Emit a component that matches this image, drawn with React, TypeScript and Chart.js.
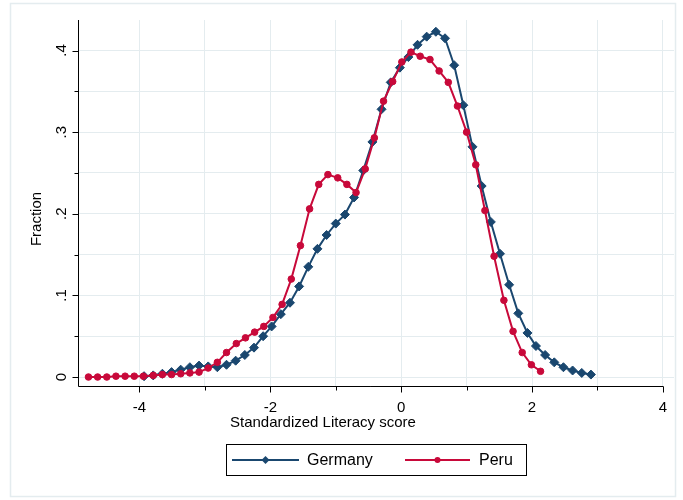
import React, { useEffect, useRef } from "react";
import { Chart, registerables } from "chart.js";

Chart.register(...registerables);

// ---------------- data ----------------
const seriesNames = ["Germany", "Peru"];

const germanyX = [
  -3.93, -3.79, -3.65, -3.51, -3.37, -3.23, -3.09, -2.95, -2.81, -2.67,
  -2.53, -2.39, -2.25, -2.11, -1.98, -1.84, -1.70, -1.56, -1.42, -1.28,
  -1.14, -1.00, -0.86, -0.72, -0.58, -0.44, -0.30, -0.16, -0.02, 0.11,
  0.25, 0.39, 0.53, 0.67, 0.81, 0.95, 1.09, 1.23, 1.37, 1.51,
  1.65, 1.79, 1.93, 2.06, 2.20, 2.34, 2.48, 2.62, 2.76, 2.90,
];
const germanyY = [
  0.001, 0.002, 0.004, 0.006, 0.009, 0.012, 0.014, 0.013, 0.012, 0.015,
  0.020, 0.027, 0.036, 0.050, 0.062, 0.077, 0.091, 0.111, 0.135, 0.157,
  0.174, 0.188, 0.199, 0.220, 0.253, 0.288, 0.328, 0.361, 0.379, 0.392,
  0.407, 0.417, 0.423, 0.415, 0.382, 0.333, 0.282, 0.234, 0.190, 0.151,
  0.113, 0.078, 0.054, 0.038, 0.027, 0.018, 0.012, 0.008, 0.005, 0.003,
];

const peruX = [
  -4.78, -4.64, -4.50, -4.36, -4.22, -4.08, -3.94, -3.79, -3.65, -3.51,
  -3.37, -3.23, -3.09, -2.95, -2.81, -2.67, -2.52, -2.38, -2.24, -2.10,
  -1.96, -1.82, -1.68, -1.54, -1.40, -1.26, -1.12, -0.97, -0.83, -0.69,
  -0.55, -0.41, -0.27, -0.13, 0.01, 0.15, 0.29, 0.44, 0.58, 0.72,
  0.86, 1.00, 1.14, 1.28, 1.42, 1.57, 1.71, 1.85, 1.99, 2.13,
];
const peruY = [
  0.000, 0.000, 0.000, 0.001, 0.001, 0.001, 0.001, 0.002, 0.003, 0.003,
  0.004, 0.005, 0.006, 0.011, 0.018, 0.030, 0.041, 0.048, 0.055, 0.062,
  0.073, 0.089, 0.120, 0.161, 0.206, 0.236, 0.248, 0.244, 0.236, 0.226,
  0.255, 0.293, 0.338, 0.362, 0.386, 0.398, 0.393, 0.389, 0.375, 0.361,
  0.332, 0.300, 0.260, 0.204, 0.148, 0.094, 0.056, 0.030, 0.015, 0.007,
];

const xMajorTicks = [-4, -2, 0, 2, 4];
const xMajorLabels = ["-4", "-2", "0", "2", "4"];
const xMinorTicks = [-3, -1, 1, 3];
const yMajorTicks = [0, 0.1, 0.2, 0.3, 0.4];
const yMajorLabels = ["0", ".1", ".2", ".3", ".4"];
const yMinorTicks = [0.05, 0.15, 0.25, 0.35];

const xTitle = "Standardized Literacy score";
const yTitle = "Fraction";

// ---------------- style ----------------
const NAVY = "#1a476f";
const RED = "#c8093a";
const GRID = "#e4ecef";
const FONT = '"Liberation Sans", Arial, sans-serif';

const overlay = {
  id: "overlay",
  afterDraw(chart: any) {
    const ctx = chart.ctx as CanvasRenderingContext2D;
    const xs = chart.scales.x;
    const ys = chart.scales.y;
    const area = chart.chartArea;
    ctx.save();

    // outer frame
    ctx.strokeStyle = GRID;
    ctx.lineWidth = 1.5;
    ctx.strokeRect(10.5, 3.5, 665, 493);

    const axisY = Math.round(area.bottom) + 0.5;
    const axisX = Math.round(area.left) + 0.5;
    const xEnd = xs.getPixelForValue(4);

    ctx.strokeStyle = "#000";
    ctx.lineWidth = 1;
    ctx.beginPath();
    ctx.moveTo(axisX, area.top);
    ctx.lineTo(axisX, axisY);
    ctx.lineTo(xEnd + 0.5, axisY);
    ctx.stroke();

    // x ticks
    ctx.beginPath();
    xMajorTicks.forEach((v) => {
      const p = Math.round(xs.getPixelForValue(v)) + 0.5;
      ctx.moveTo(p, axisY);
      ctx.lineTo(p, axisY + 6);
    });
    xMinorTicks.forEach((v) => {
      const p = Math.round(xs.getPixelForValue(v)) + 0.5;
      ctx.moveTo(p, axisY);
      ctx.lineTo(p, axisY + 4);
    });
    // y ticks
    yMajorTicks.forEach((v) => {
      const p = Math.round(ys.getPixelForValue(v)) + 0.5;
      ctx.moveTo(axisX, p);
      ctx.lineTo(axisX - 6, p);
    });
    yMinorTicks.forEach((v) => {
      const p = Math.round(ys.getPixelForValue(v)) + 0.5;
      ctx.moveTo(axisX, p);
      ctx.lineTo(axisX - 4, p);
    });
    ctx.stroke();

    ctx.fillStyle = "#000";
    ctx.font = `15px ${FONT}`;
    ctx.textAlign = "center";
    ctx.textBaseline = "middle";
    xMajorTicks.forEach((v, i) => {
      ctx.fillText(xMajorLabels[i], xs.getPixelForValue(v), axisY + 21);
    });
    yMajorTicks.forEach((v, i) => {
      ctx.save();
      ctx.translate(axisX - 17, ys.getPixelForValue(v));
      ctx.rotate(-Math.PI / 2);
      ctx.fillText(yMajorLabels[i], 0, 0);
      ctx.restore();
    });

    // axis titles
    ctx.textAlign = "left";
    ctx.fillText(xTitle, 230, 423);
    ctx.save();
    ctx.translate(37, 219);
    ctx.rotate(-Math.PI / 2);
    ctx.textAlign = "center";
    ctx.fillText(yTitle, 0, 0);
    ctx.restore();

    // legend
    ctx.strokeStyle = "#000";
    ctx.lineWidth = 1;
    ctx.strokeRect(226.5, 444.5, 300, 31);
    const ly = 460;
    const drawEntry = (x0: number, x1: number, color: string, marker: string, tx: number, label: string) => {
      ctx.strokeStyle = color;
      ctx.lineWidth = 2;
      ctx.beginPath();
      ctx.moveTo(x0, ly);
      ctx.lineTo(x1, ly);
      ctx.stroke();
      const mx = (x0 + x1) / 2;
      ctx.fillStyle = color;
      ctx.beginPath();
      if (marker === "diamond") {
        ctx.moveTo(mx, ly - 4);
        ctx.lineTo(mx + 4, ly);
        ctx.lineTo(mx, ly + 4);
        ctx.lineTo(mx - 4, ly);
        ctx.closePath();
      } else {
        ctx.arc(mx, ly, 3, 0, Math.PI * 2);
      }
      ctx.fill();
      ctx.fillStyle = "#000";
      ctx.font = `16px ${FONT}`;
      ctx.textAlign = "left";
      ctx.textBaseline = "middle";
      ctx.fillText(label, tx, ly + 1);
    };
    drawEntry(232, 299, NAVY, "diamond", 307, seriesNames[0]);
    drawEntry(405, 470, RED, "circle", 479, seriesNames[1]);

    ctx.restore();
  },
};

const xGridValues = [...xMajorTicks, ...xMinorTicks].sort((a, b) => a - b);
const yGridValues = [...yMajorTicks, ...yMinorTicks].sort((a, b) => a - b);

export default function App() {
  const ref = useRef<HTMLCanvasElement | null>(null);

  useEffect(() => {
    document.body.style.margin = "0";
    const canvas = ref.current;
    if (!canvas) return;
    const chart = new Chart(canvas, {
      type: "line",
      data: {
        datasets: [
          {
            label: seriesNames[0],
            data: germanyX.map((x, i) => ({ x, y: germanyY[i] })),
            borderColor: NAVY,
            backgroundColor: NAVY,
            borderWidth: 2,
            pointStyle: "rectRot",
            pointRadius: 4.5,
            pointBorderWidth: 1,
            pointBackgroundColor: NAVY,
            pointBorderColor: NAVY,
            tension: 0,
            fill: false,
            order: 2,
          },
          {
            label: seriesNames[1],
            data: peruX.map((x, i) => ({ x, y: peruY[i] })),
            borderColor: RED,
            backgroundColor: RED,
            borderWidth: 2,
            pointStyle: "circle",
            pointRadius: 3.3,
            pointBorderWidth: 1,
            pointBackgroundColor: RED,
            pointBorderColor: RED,
            tension: 0,
            fill: false,
            order: 1,
          },
        ],
      },
      options: {
        animation: false,
        responsive: false,
        maintainAspectRatio: false,
        events: [],
        layout: { padding: { top: 20, right: 9, left: 0, bottom: 0 } },
        plugins: {
          legend: { display: false },
          tooltip: { enabled: false },
          title: { display: false },
        },
        scales: {
          x: {
            type: "linear",
            min: -4.94,
            max: 4.17,
            afterBuildTicks: (s: any) => {
              s.ticks = xGridValues.map((v) => ({ value: v }));
            },
            afterFit: (s: any) => {
              s.height = 114;
            },
            ticks: { display: false },
            grid: { color: GRID, lineWidth: 1, drawTicks: false },
            border: { display: false },
          },
          y: {
            type: "linear",
            min: -0.011,
            max: 0.4374,
            afterBuildTicks: (s: any) => {
              s.ticks = yGridValues.map((v) => ({ value: v }));
            },
            afterFit: (s: any) => {
              s.width = 78;
            },
            ticks: { display: false },
            grid: { color: GRID, lineWidth: 1, drawTicks: false },
            border: { display: false },
          },
        },
      },
      plugins: [overlay],
    } as any);
    return () => chart.destroy();
  }, []);

  return (
    <div style={{ width: 683, height: 500, background: "#fff" }}>
      <canvas ref={ref} width={683} height={500} style={{ display: "block", width: 683, height: 500 }} />
    </div>
  );
}
